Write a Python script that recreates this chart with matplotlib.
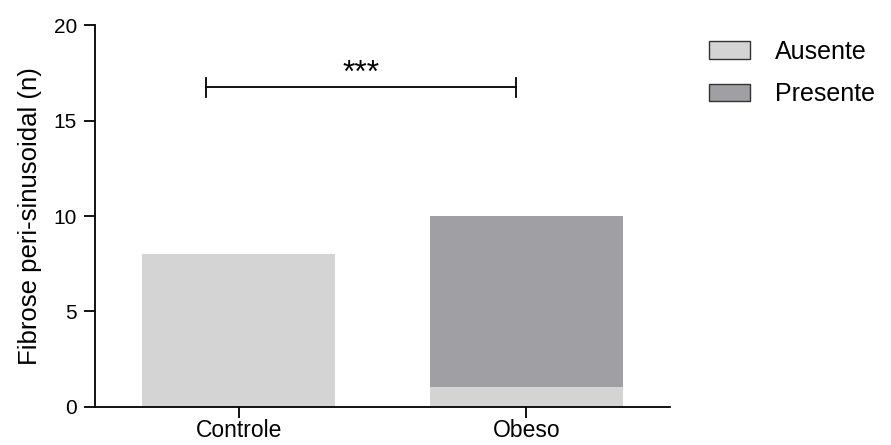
import matplotlib
matplotlib.use("Agg")
import matplotlib.pyplot as plt
from matplotlib.patches import Patch

plt.rcParams['font.family'] = ['Liberation Sans', 'DejaVu Sans']

groups = ["Controle", "Obeso"]
ausente = [8, 1]
presente = [0, 9]
series_labels = ["Ausente", "Presente"]
colors = ["#d4d4d4", "#a09fa4"]
sig_label = "***"
sig_level = 16.75
sig_span = [-0.113, 0.963]

fig = plt.figure(figsize=(8.91, 4.45), dpi=100)
ax = fig.add_axes([0.1066, 0.0865, 0.6454, 0.8562])

x = list(range(len(groups)))
width = 0.67
ax.bar(x, ausente, width=width, color=colors[0], linewidth=0)
ax.bar(x, presente, width=width, bottom=ausente, color=colors[1], linewidth=0)

# significance bracket
ax.plot(sig_span, [sig_level, sig_level], color="black", lw=1.3)
for xe in sig_span:
    ax.plot([xe, xe], [sig_level - 0.5, sig_level + 0.5], color="black", lw=1.3)
ax.text(sum(sig_span) / 2, sig_level + 0.28, sig_label, ha="center", va="baseline",
        fontsize=23)

ax.set_xlim(-0.5, 1.5)
ax.set_ylim(0, 20)
ax.set_yticks([0, 5, 10, 15, 20])
ax.set_xticks(x)
ax.set_xticklabels(groups)
ax.set_ylabel("Fibrose peri-sinusoidal (n)", fontsize=18.5, labelpad=8)
ax.tick_params(axis="y", labelsize=15, length=8, width=1.3, direction="out", pad=5)
ax.tick_params(axis="x", labelsize=16.5, length=8, width=1.3, direction="out", pad=1)
for s in ["top", "right"]:
    ax.spines[s].set_visible(False)
for s in ["left", "bottom"]:
    ax.spines[s].set_linewidth(1.3)

handles = [Patch(facecolor=c, edgecolor="#333333", linewidth=1.0) for c in colors]
fig.legend(handles, series_labels, loc="upper left",
           bbox_to_anchor=(0.7957, 0.911), frameon=False, fontsize=18,
           borderpad=0, borderaxespad=0, handlelength=1.65, handleheight=0.7,
           handletextpad=1.0, labelspacing=0.75)

fig.savefig("out.png", dpi=100)
